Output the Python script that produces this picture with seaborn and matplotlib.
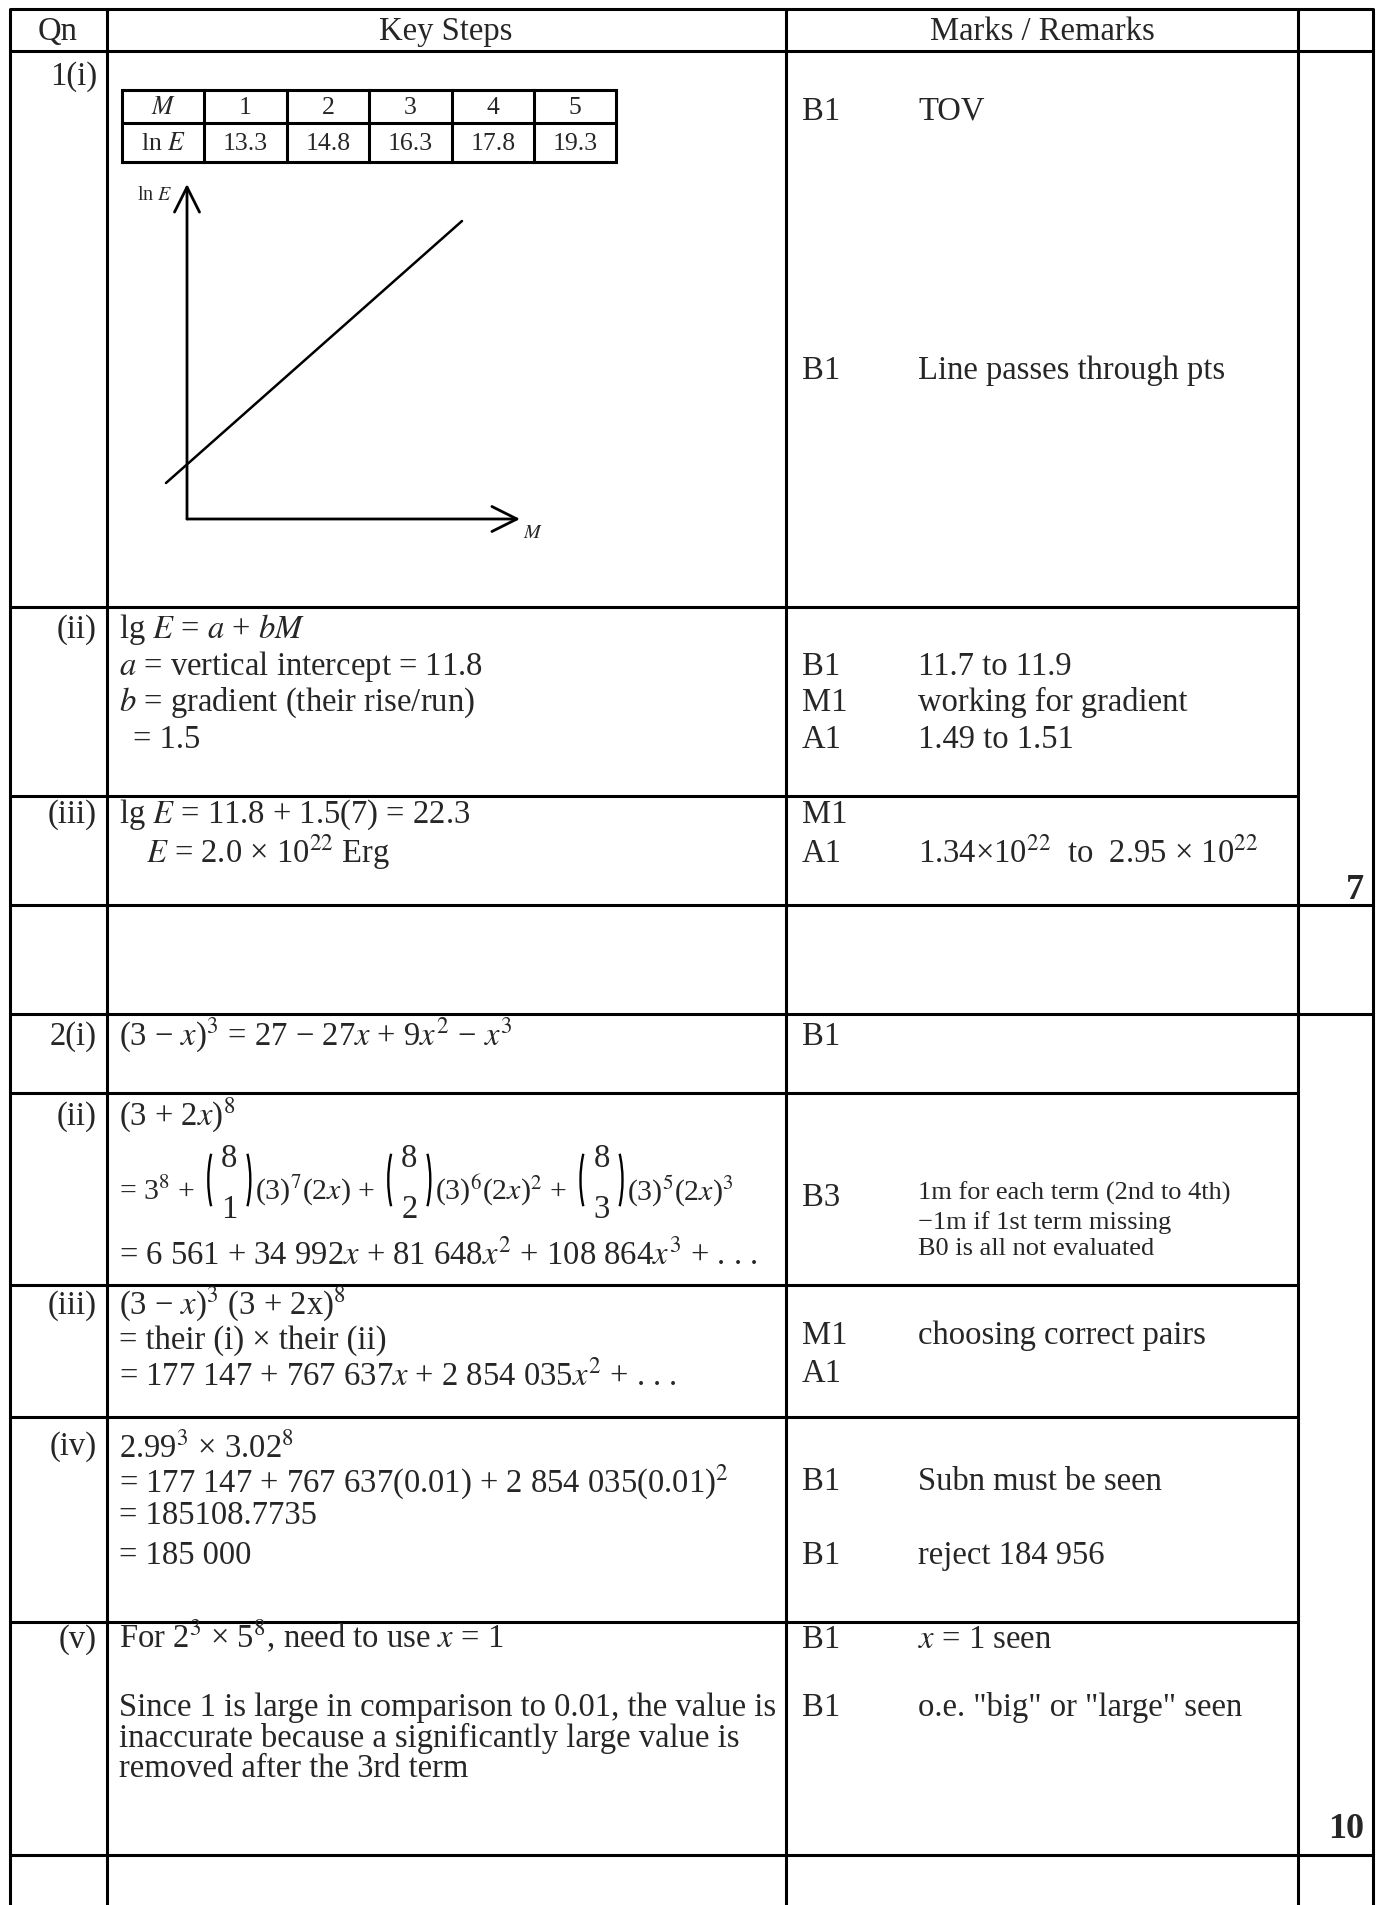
import numpy as np
import pandas as pd
import seaborn as sns
import matplotlib.pyplot as plt
from matplotlib.patches import Arc


M_vals = [1, 2, 3, 4, 5]
lnE_vals = [13.3, 14.8, 16.3, 17.8, 19.3]

qn_labels = ["1(i)", "(ii)", "(iii)", "2(i)", "(ii)", "(iii)", "(iv)", "(v)"]
qn_y = [74, 627, 812, 1034, 1114, 1303, 1444, 1637]

key_steps = [
    (119, 627, "lg $E$ = $a$ + $bM$"),
    (119, 664, "$a$ = vertical intercept = 11.8"),
    (119, 700, "$b$ = gradient (their rise/run)"),
    (133, 737, "= 1.5"),
    (119, 812, "lg $E$ = 11.8 + 1.5(7) = 22.3"),
    (146, 851, "$E$ = 2.0 \u00d7 10$^{22}$ Erg"),
    (119, 1034, "(3 \u2212 $x$)$^3$ = 27 \u2212 27$x$ + 9$x^2$ \u2212 $x^3$"),
    (119, 1114, "(3 + 2$x$)$^8$"),
    (119, 1253, "= 6 561 + 34 992$x$ + 81 648$x^2$ + 108 864$x^3$ + . . ."),
    (119, 1303, "(3 \u2212 $x$)$^3$ (3 + 2x)$^8$"),
    (119, 1338, "= their (i) \u00d7 their (ii)"),
    (119, 1374, "= 177 147 + 767 637$x$ + 2 854 035$x^2$ + . . ."),
    (119, 1446, "2.99$^3$ \u00d7 3.02$^8$"),
    (119, 1481, "= 177 147 + 767 637(0.01) + 2 854 035(0.01)$^2$"),
    (119, 1513, "= 185108.7735"),
    (119, 1553, "= 185 000"),
    (119, 1637, "For 2$^3$ \u00d7 5$^8$, need to use $x$ = 1"),
    (119, 1705, "Since 1 is large in comparison to 0.01, the value is"),
    (119, 1736, "inaccurate because a significantly large value is"),
    (119, 1766, "removed after the 3rd term"),
]

# binomial expansion line: text pieces and (n, k) coefficients
binom_y = 1189
binom_pieces = ["= 3$^8$ +", (8, 1), "(3)$^7$(2$x$) +", (8, 2),
                "(3)$^6$(2$x$)$^2$ +", (8, 3), "(3)$^5$(2$x$)$^3$"]

mark_codes = [
    (109, "B1"), (368, "B1"), (664, "B1"), (700, "M1"), (737, "A1"),
    (812, "M1"), (851, "A1"), (1034, "B1"), (1195, "B3"), (1333, "M1"),
    (1371, "A1"), (1479, "B1"), (1553, "B1"), (1637, "B1"), (1705, "B1"),
]

remarks = [
    (109, "TOV"), (368, "Line passes through pts"), (664, "11.7 to 11.9"),
    (700, "working for gradient"), (737, "1.49 to 1.51"),
    (851, "1.34\u00d710$^{22}$  to  2.95 \u00d7 10$^{22}$"),
    (1333, "choosing correct pairs"), (1479, "Subn must be seen"),
    (1553, "reject 184 956"), (1637, "$x$ = 1 seen"),
    (1705, 'o.e. "big" or "large" seen'),
]

small_remarks = [
    (1191, "1m for each term (2nd to 4th)"),
    (1220, "\u22121m if 1st term missing"),
    (1246, "B0 is all not evaluated"),
]

totals = [(887, "7"), (1826, "10")]

# layout (pixels)
W, H = 1382, 1906
col_x = [10, 107, 786, 1298, 1373]
full_rows = [10, 52, 906, 1015, 1856]
part_rows = [608, 797, 1094, 1286, 1418, 1623]

sns.set_style("white")
plt.rcParams["font.family"] = ["Liberation Serif", "DejaVu Serif"]
plt.rcParams["mathtext.fontset"] = "stix"

fs = 23.5
fig = plt.figure(figsize=(W / 100, H / 100), dpi=100)
ax = fig.add_axes([0, 0, 1, 1])
ax.set_xlim(0, W)
ax.set_ylim(H, 0)
ax.axis("off")

lw = 2.2
for x in col_x:
    ax.plot([x, x], [10, H], color="black", lw=lw, solid_capstyle="butt")
for y in full_rows:
    ax.plot([10, 1373], [y, y], color="black", lw=lw)
for y in part_rows:
    ax.plot([10, 1298], [y, y], color="black", lw=lw)

# header
for x, s in [(58, "Qn"), (446, "Key Steps"), (1042, "Marks / Remarks")]:
    ax.text(x, 40, s, ha="center", va="baseline", fontsize=fs)

off = 11  # centre -> baseline
for s, y in zip(qn_labels, qn_y):
    ax.text(97, y + off, s, ha="right", va="baseline", fontsize=fs)
for x, y, s in key_steps:
    ax.text(x, y + off, s, ha="left", va="baseline", fontsize=fs)
for y, s in mark_codes:
    ax.text(802, y + off, s, ha="left", va="baseline", fontsize=fs)
for y, s in remarks:
    ax.text(918, y + off, s, ha="left", va="baseline", fontsize=fs)
for y, s in small_remarks:
    ax.text(918, y + 9, s, ha="left", va="baseline", fontsize=19)
for y, s in totals:
    ax.text(1364, y + 12, s, ha="right", va="baseline", fontsize=26, fontweight="bold")

# binomial line laid out piece by piece
renderer = fig.canvas.get_renderer()
bx = 119
cb = binom_y - 8
for p in binom_pieces:
    if isinstance(p, str):
        t = ax.text(bx, binom_y + off, p, ha="left", va="baseline", fontsize=21.5)
        bx += t.get_window_extent(renderer=renderer).width + 13
    else:
        n, k = p
        ax.add_patch(Arc((bx + 18, cb), 36, 97, theta1=120, theta2=240, lw=1.7, color="black"))
        ax.add_patch(Arc((bx + 24, cb), 36, 97, theta1=-60, theta2=60, lw=1.7, color="black"))
        ax.text(bx + 21, cb - 25 + off, str(n), ha="center", va="baseline", fontsize=fs)
        ax.text(bx + 21, cb + 26 + off, str(k), ha="center", va="baseline", fontsize=fs)
        bx += 47

# small table of values
tx = [122 + i * 82.4 for i in range(7)]
ty = [91, 124, 163]
for x in tx:
    ax.plot([x, x], [ty[0], ty[-1]], color="black", lw=2.2, solid_capstyle="projecting")
for y in ty:
    ax.plot([tx[0], tx[-1]], [y, y], color="black", lw=2.2)
row1 = ["$M$"] + [str(m) for m in M_vals]
row2 = ["ln $E$"] + [f"{v:.1f}" for v in lnE_vals]
for i in range(6):
    cx = (tx[i] + tx[i + 1]) / 2
    ax.text(cx, (ty[0] + ty[1]) / 2 + 7, row1[i], ha="center", va="baseline", fontsize=18.5)
    ax.text(cx, (ty[1] + ty[2]) / 2 + 7, row2[i], ha="center", va="baseline", fontsize=18.5)

# sketch graph: line through the points, M=1 at px (166,484), M=5 at px (462,222)
gx0, gx1, gy_top, gy_bot = 187, 520, 185, 520
px_per_M = (462 - 166) / (M_vals[-1] - M_vals[0])
px_per_E = (484 - 222) / (lnE_vals[-1] - lnE_vals[0])
gax = fig.add_axes([gx0 / W, 1 - gy_bot / H, (gx1 - gx0) / W, (gy_bot - gy_top) / H])
gax.set_xlim(M_vals[0] + (gx0 - 166) / px_per_M, M_vals[0] + (gx1 - 166) / px_per_M)
gax.set_ylim(lnE_vals[0] - (gy_bot - 484) / px_per_E, lnE_vals[0] + (484 - gy_top) / px_per_E)
df = pd.DataFrame({"M": M_vals, "lnE": lnE_vals})
sns.lineplot(data=df, x="M", y="lnE", ax=gax, color="black", linewidth=1.8)
for ln in gax.lines:
    ln.set_clip_on(False)
gax.patch.set_visible(False)
for sp in gax.spines.values():
    sp.set_visible(False)
gax.set_xticks([])
gax.set_yticks([])
gax.set_xlabel("")
gax.set_ylabel("")
arrow = dict(arrowstyle="->,head_length=0.9,head_width=0.45", lw=2, color="black",
             shrinkA=0, shrinkB=0, mutation_scale=20)
gax.annotate("", xy=(1, 0), xytext=(0, 0), xycoords="axes fraction", arrowprops=arrow)
gax.annotate("", xy=(0, 1), xytext=(0, 0), xycoords="axes fraction", arrowprops=arrow)
ax.text(155, 200, "ln $E$", ha="center", va="baseline", fontsize=14.5)
ax.text(533, 538, "$M$", ha="center", va="baseline", fontsize=14.5)

fig.savefig("out.png", dpi=100, facecolor="white")
